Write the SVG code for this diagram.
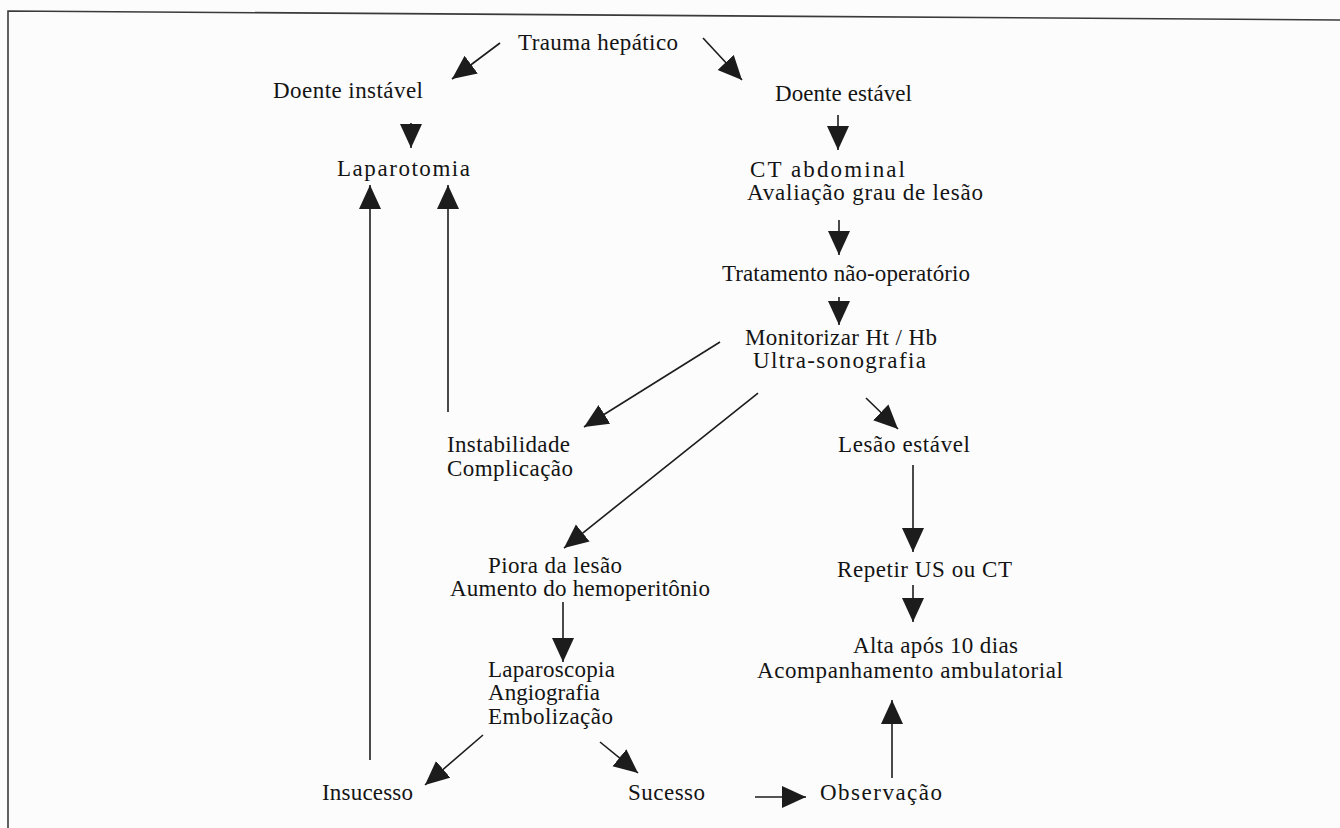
<svg xmlns="http://www.w3.org/2000/svg" width="1340" height="828" viewBox="0 0 1340 828">
<style>
.t{font-family:"Liberation Serif","Times New Roman",serif;font-size:23px;fill:#141414}
.c{stroke:#1c1c1c;stroke-width:1.6;fill:none}
.f{stroke:#3a3a3a;stroke-width:1.6;fill:none}
</style>
<defs>
<marker id="ah" markerUnits="userSpaceOnUse" markerWidth="26" markerHeight="24" refX="24" refY="11" orient="auto">
<path d="M0,0 L24,11 L0,22 z" fill="#1c1c1c"/>
</marker>
</defs>
<rect width="1340" height="828" fill="#fcfcfc"/>
<polyline class="f" points="8,828 8,11 1340,20"/>
<g id="connectors">
<line class="c" x1="500" y1="43" x2="452" y2="79" marker-end="url(#ah)"/>
<line class="c" x1="703" y1="38" x2="742" y2="80" marker-end="url(#ah)"/>
<line class="c" x1="411" y1="123" x2="411" y2="148" marker-end="url(#ah)"/>
<line class="c" x1="838" y1="115" x2="838" y2="150" marker-end="url(#ah)"/>
<line class="c" x1="839" y1="220" x2="839" y2="255" marker-end="url(#ah)"/>
<line class="c" x1="839" y1="297" x2="839" y2="325" marker-end="url(#ah)"/>
<line class="c" x1="720" y1="342" x2="584" y2="427" marker-end="url(#ah)"/>
<line class="c" x1="758" y1="393" x2="564" y2="548" marker-end="url(#ah)"/>
<line class="c" x1="866" y1="398" x2="898" y2="429" marker-end="url(#ah)"/>
<line class="c" x1="913" y1="465" x2="913" y2="552" marker-end="url(#ah)"/>
<line class="c" x1="913" y1="585" x2="913" y2="622" marker-end="url(#ah)"/>
<line class="c" x1="563" y1="602" x2="563" y2="662" marker-end="url(#ah)"/>
<line class="c" x1="483" y1="735" x2="425" y2="785" marker-end="url(#ah)"/>
<line class="c" x1="600" y1="742" x2="638" y2="773" marker-end="url(#ah)"/>
<line class="c" x1="755" y1="797" x2="806" y2="797" marker-end="url(#ah)"/>
<line class="c" x1="892" y1="778" x2="892" y2="700" marker-end="url(#ah)"/>
<line class="c" x1="370" y1="760" x2="370" y2="185" marker-end="url(#ah)"/>
<line class="c" x1="448" y1="412" x2="448" y2="185" marker-end="url(#ah)"/>
</g>
<g id="trauma"><text class="t" x="518" y="50" textLength="160" lengthAdjust="spacing">Trauma hepático</text></g>
<g id="instavel"><text class="t" x="273" y="98" textLength="150" lengthAdjust="spacing">Doente instável</text></g>
<g id="estavel"><text class="t" x="775" y="101" textLength="137" lengthAdjust="spacing">Doente estável</text></g>
<g id="laparotomia"><text class="t" x="337" y="176" textLength="133" lengthAdjust="spacing">Laparotomia</text></g>
<g id="ct">
<text class="t" x="750" y="177" textLength="155" lengthAdjust="spacing">CT abdominal</text>
<text class="t" x="747" y="200" textLength="236" lengthAdjust="spacing">Avaliação grau de lesão</text>
</g>
<g id="tratamento"><text class="t" x="722" y="281" textLength="248" lengthAdjust="spacing">Tratamento não-operatório</text></g>
<g id="monitorizar">
<text class="t" x="745" y="345" textLength="192" lengthAdjust="spacing">Monitorizar Ht / Hb</text>
<text class="t" x="753" y="368" textLength="173" lengthAdjust="spacing">Ultra-sonografia</text>
</g>
<g id="instabilidade">
<text class="t" x="447" y="452" textLength="123" lengthAdjust="spacing">Instabilidade</text>
<text class="t" x="447" y="476" textLength="126" lengthAdjust="spacing">Complicação</text>
</g>
<g id="lesao-estavel"><text class="t" x="838" y="452" textLength="132" lengthAdjust="spacing">Lesão estável</text></g>
<g id="piora">
<text class="t" x="488" y="573" textLength="134" lengthAdjust="spacing">Piora da lesão</text>
<text class="t" x="450" y="596" textLength="260" lengthAdjust="spacing">Aumento do hemoperitônio</text>
</g>
<g id="repetir"><text class="t" x="837" y="577" textLength="175" lengthAdjust="spacing">Repetir US ou CT</text></g>
<g id="alta">
<text class="t" x="853" y="653" textLength="165" lengthAdjust="spacing">Alta após 10 dias</text>
<text class="t" x="757" y="678" textLength="306" lengthAdjust="spacing">Acompanhamento ambulatorial</text>
</g>
<g id="laparoscopia">
<text class="t" x="488" y="677" textLength="127" lengthAdjust="spacing">Laparoscopia</text>
<text class="t" x="488" y="700" textLength="112" lengthAdjust="spacing">Angiografia</text>
<text class="t" x="488" y="724" textLength="125" lengthAdjust="spacing">Embolização</text>
</g>
<g id="insucesso"><text class="t" x="322" y="800" textLength="91" lengthAdjust="spacing">Insucesso</text></g>
<g id="sucesso"><text class="t" x="628" y="800" textLength="77" lengthAdjust="spacing">Sucesso</text></g>
<g id="observacao"><text class="t" x="820" y="800" textLength="122" lengthAdjust="spacing">Observação</text></g>
</svg>
